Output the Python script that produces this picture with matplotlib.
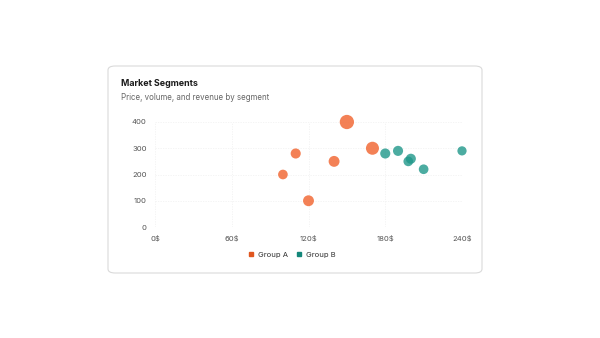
import matplotlib.pyplot as plt
from matplotlib.patches import FancyBboxPatch
from matplotlib.lines import Line2D

# data
price_a = [100, 110, 120, 140, 150, 170]
volume_a = [200, 280, 100, 250, 400, 300]
revenue_a = [22, 24, 28, 28, 48, 40]

price_b = [180, 190, 198, 200, 210, 240]
volume_b = [280, 290, 250, 260, 220, 290]
revenue_b = [24, 24, 22, 24, 22, 20]

x_ticks = [0, 60, 120, 180, 240]
x_labels = ["0$", "60$", "120$", "180$", "240$"]
y_ticks = [0, 100, 200, 300, 400]

color_a = "#F26B38"
color_b = "#1F978A"

plt.rcParams['font.family'] = ['Inter', 'DejaVu Sans']

fig = plt.figure(figsize=(6, 3.38), dpi=100)
fig.patch.set_facecolor("white")

# card background
card = FancyBboxPatch((108 / 600, 1 - 273 / 338), 374 / 600, 207 / 338,
                      boxstyle="round,pad=0,rounding_size=0.012",
                      transform=fig.transFigure, facecolor="white",
                      edgecolor="#DADADA", linewidth=0.8, zorder=-1)
fig.patches.append(card)

fig.text(121 / 600, 1 - 84 / 338, "Market Segments", fontsize=6.4, fontweight="bold",
         color="#1A1A1A", va="center")
fig.text(121 / 600, 1 - 98 / 338, "Price, volume, and revenue by segment", fontsize=5.7,
         color="#666666", va="center")

ax = fig.add_axes([155 / 600, 1 - 227 / 338, 307 / 600, 105 / 338])
ax.set_zorder(2)
ax.patch.set_alpha(0)
ax.set_xlim(0, 240)
ax.set_ylim(0, 400)

ax.scatter(price_a, volume_a, s=[r * 2.2 for r in revenue_a], color=color_a,
           alpha=0.85, edgecolors="none", clip_on=False, zorder=3)
ax.scatter(price_b, volume_b, s=[r * 2.2 for r in revenue_b], color=color_b,
           alpha=0.8, edgecolors="none", clip_on=False, zorder=3)

ax.set_xticks(x_ticks)
ax.set_xticklabels(x_labels)
ax.set_yticks(y_ticks)
ax.tick_params(length=0, labelsize=5.5, labelcolor="#555555", pad=6)
for s in ax.spines.values():
    s.set_visible(False)
ax.grid(True, color="#F2F2F2", linewidth=0.6, linestyle=(0, (1.5, 1.5)))
ax.set_axisbelow(True)

handles = [Line2D([], [], marker="s", linestyle="", markersize=3, color="#E0561F", label="Group A"),
           Line2D([], [], marker="s", linestyle="", markersize=3, color="#14877A", label="Group B")]
fig.legend(handles=handles, loc="center", bbox_to_anchor=(292 / 600, 1 - 255 / 338),
           ncol=2, frameon=False, fontsize=5.5, handlelength=0.7, handletextpad=0.5,
           columnspacing=1.1, labelcolor="#333333")

fig.savefig("out.png", dpi=100)
